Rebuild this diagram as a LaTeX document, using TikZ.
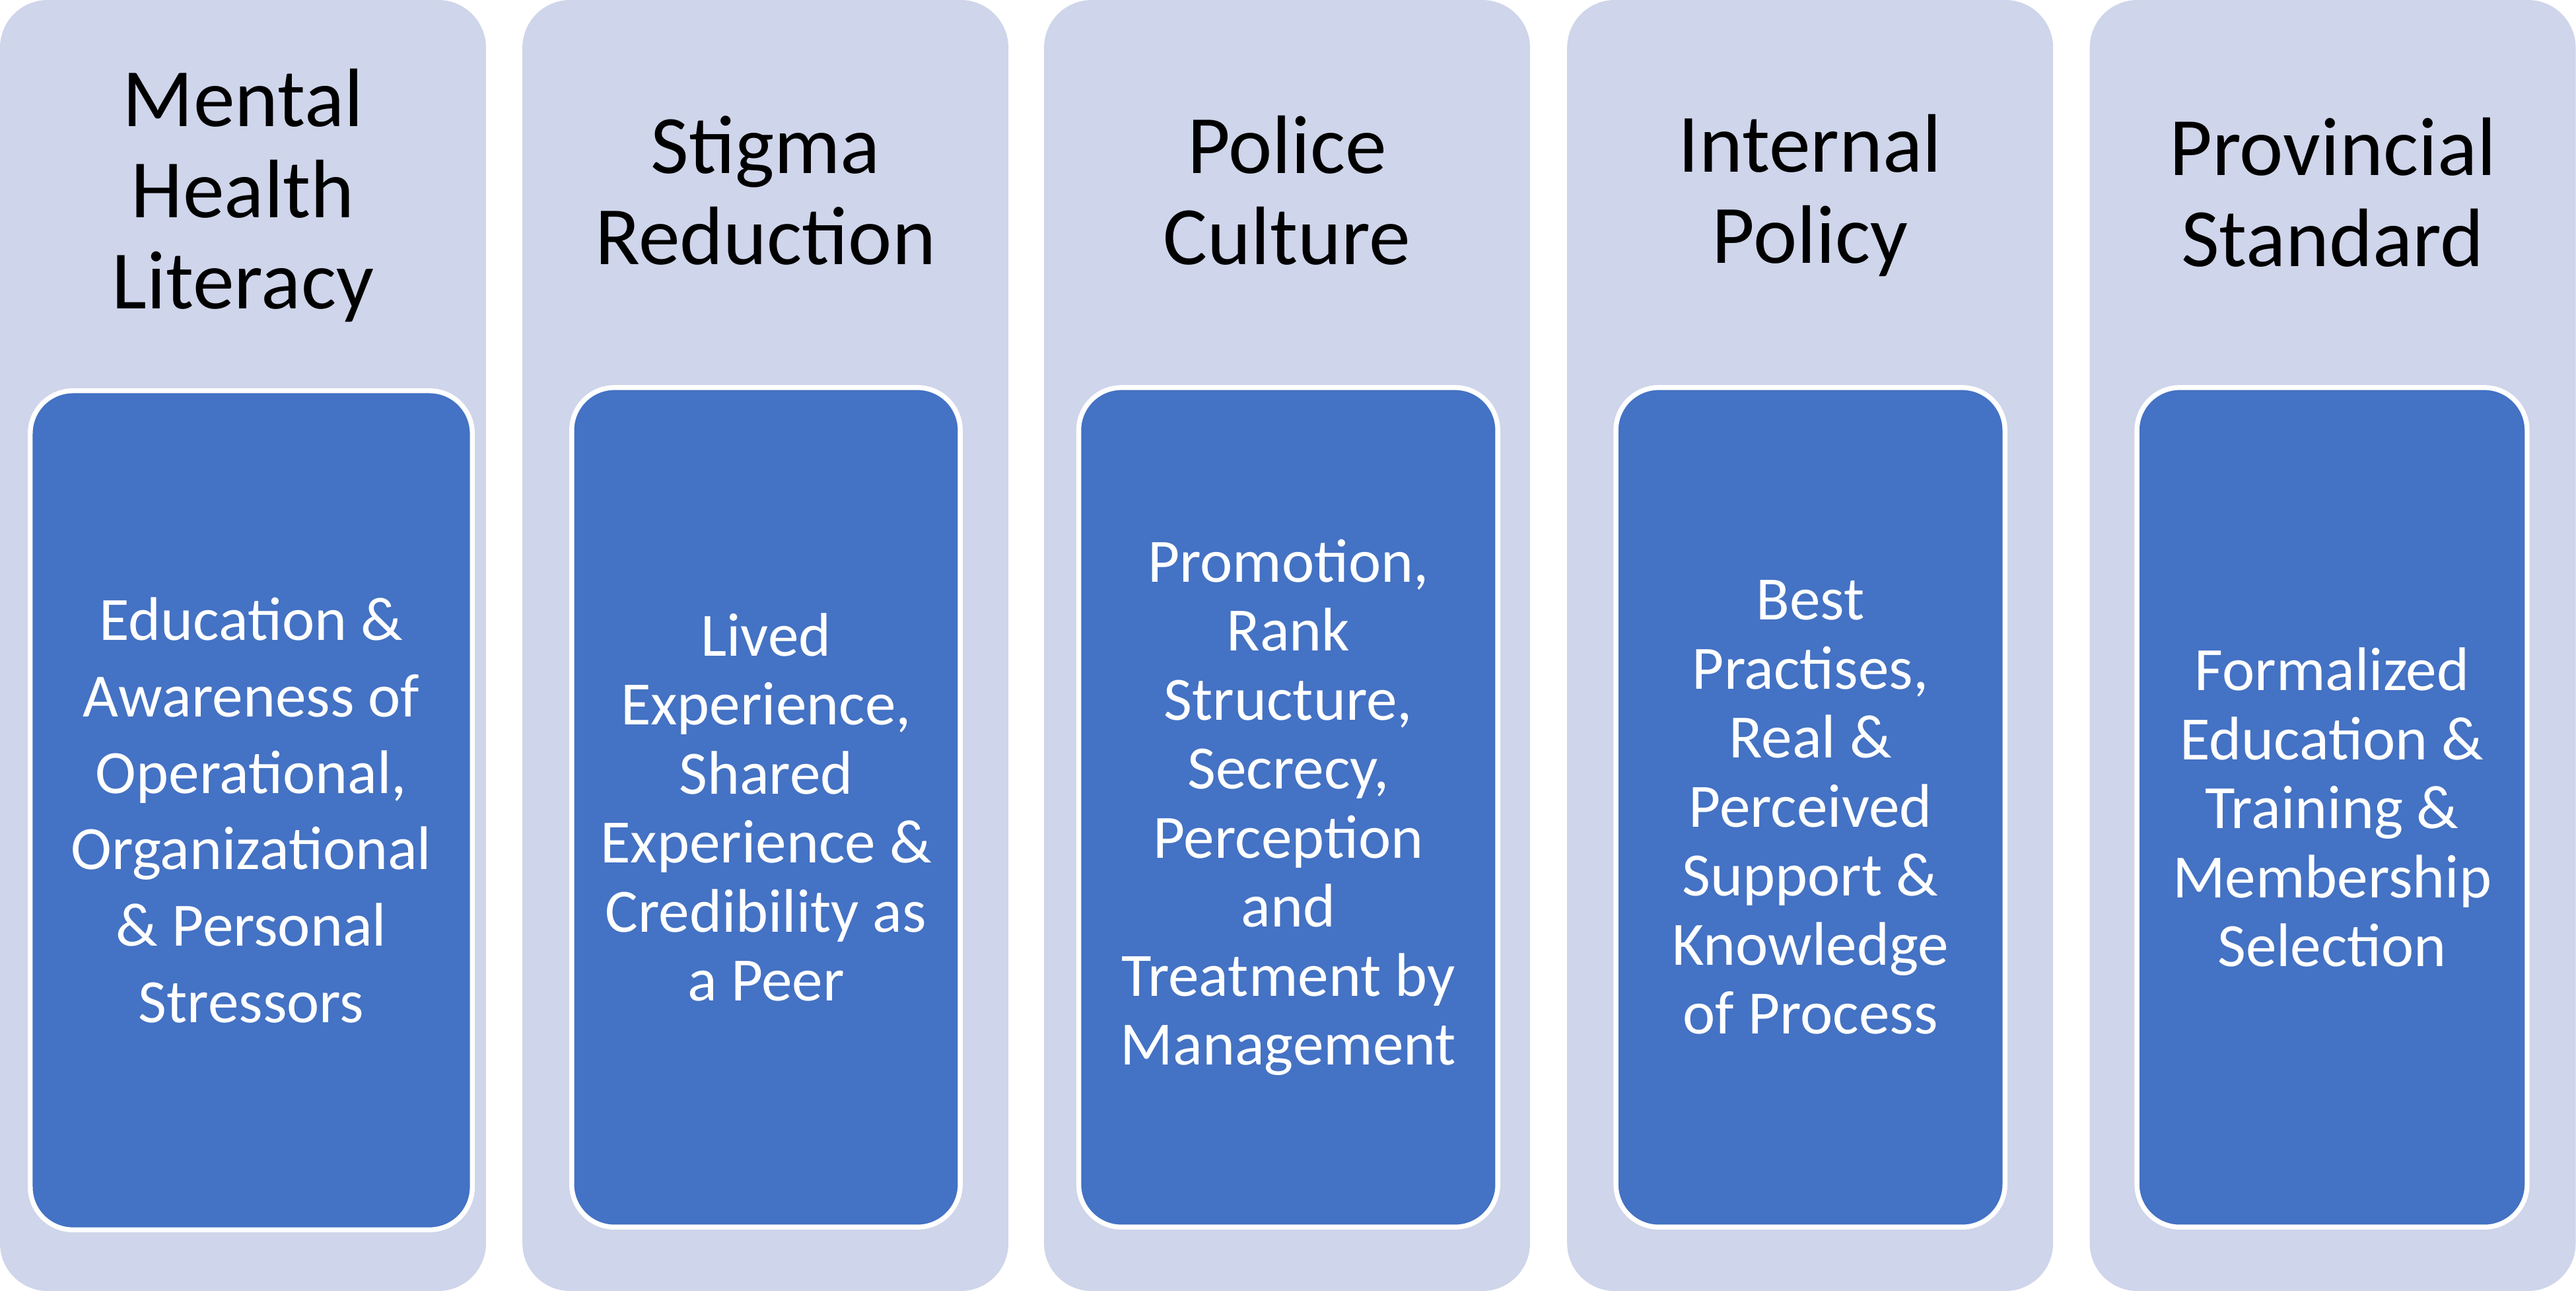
\documentclass[tikz,border=0pt]{standalone}
\usepackage{fontspec}
\setmainfont{Carlito}
\definecolor{colbg}{RGB}{207,213,234}
\definecolor{cardblue}{RGB}{68,114,196}
\tikzset{
  column/.style={fill=colbg, rounded corners=2.9mm, minimum width=29.58mm, minimum height=78.58mm, inner sep=0pt},
  heading/.style={align=center, inner sep=0pt, font=\fontsize{14.37}{15.79}\selectfont},
  card/.style={fill=cardblue, draw=white, line width=0.85pt, rounded corners=2.6mm, minimum height=51.1mm, inner sep=0pt, align=center, text=white, font=\fontsize{10.67}{11.95}\selectfont},
}

\begin{document}
\begin{tikzpicture}[x=0.1mm, y=-0.1mm]
\useasboundingbox (0,0) rectangle (1568,785.8);
% background columns
\foreach \i/\x in {1/147.9, 2/465.9, 3/783.4, 4/1101.8, 5/1419.9}
  \node[column] (col\i) at (\x,392.9) {};
% headings
\node[heading] (head1) at (147.9,119) {Mental\\Health\\Literacy};
\node[heading] (head2) at (465.9,116) {Stigma\\Reduction};
\node[heading] (head3) at (783.4,116) {Police\\Culture};
\node[heading] (head4) at (1101.8,119) {Internal\\Policy};
\node[heading] (head5) at (1419.9,117) {Provincial\\Standard};
% cards
\node[card, minimum width=26.91mm, minimum height=51.07mm, font=\fontsize{10.67}{13.23}\selectfont] (card1) at (152.95,493.2)
  {Education \&\\Awareness of\\Operational,\\Organizational\\\& Personal\\Stressors};
\node[card, minimum width=23.65mm] (card2) at (466.25,491.4)
  {Lived\\Experience,\\Shared\\Experience \&\\Credibility as\\a Peer};
\node[card, minimum width=25.51mm] (card3) at (784.15,491.4)
  {Promotion,\\Rank\\Structure,\\Secrecy,\\Perception\\and\\Treatment by\\Management};
\node[card, minimum width=23.68mm] (card4) at (1102,491.4)
  {Best\\Practises,\\Real \&\\Perceived\\Support \&\\Knowledge\\of Process};
\node[card, minimum width=23.75mm] (card5) at (1419.5,491.4)
  {Formalized\\Education \&\\Training \&\\Membership\\Selection};
\end{tikzpicture}
\end{document}
